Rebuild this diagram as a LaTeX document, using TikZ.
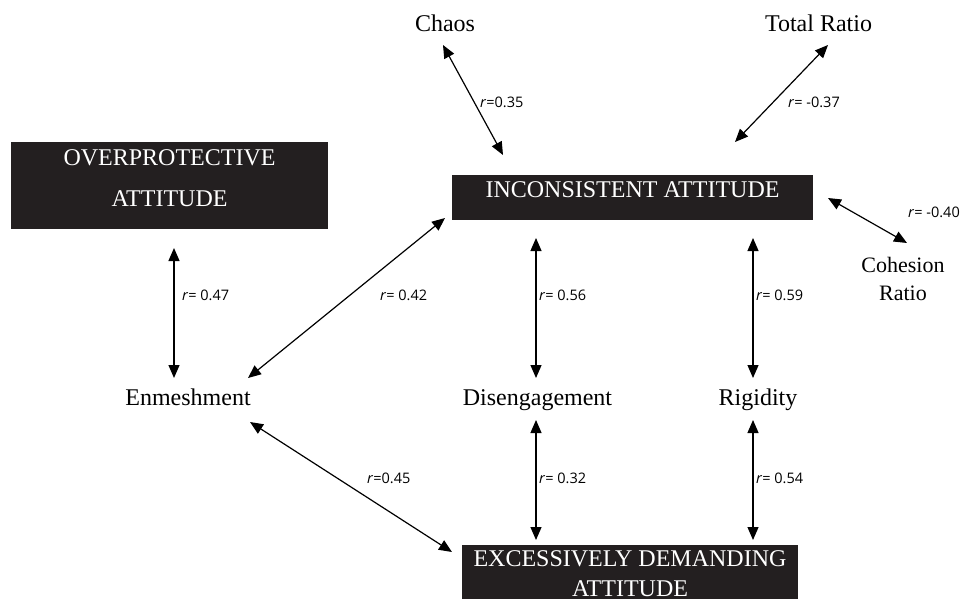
\documentclass[tikz,border=0pt]{standalone}
\usepackage{fontspec}
\setmainfont{Liberation Serif}
\newfontfamily\lblfont{Open Sans}
\usetikzlibrary{arrows.meta}
\definecolor{boxblack}{HTML}{231F20}

\tikzset{
  attbox/.style={fill=boxblack, text=white, inner sep=0pt, align=center,
    font=\fontsize{24}{41}\selectfont},
  var/.style={anchor=base, inner sep=0pt, font=\fontsize{24}{28}\selectfont},
  corr/.style={{Triangle[length=13pt,width=11pt]}-{Triangle[length=13pt,width=11pt]},
    line width=1.2pt},
  rlab/.style={anchor=base west, inner sep=0pt, font=\lblfont\fontsize{14.5}{17}\selectfont},
}

\begin{document}
\begin{tikzpicture}[x=1pt,y=-1pt]
\useasboundingbox (0,0) rectangle (961,599);

% attitudes
\node[attbox, minimum width=317pt, minimum height=87pt, text depth=14pt] (over) at (169.5,185.5) {OVERPROTECTIVE\\ATTITUDE};
\node[attbox, minimum width=361pt, minimum height=45pt, text depth=15pt] (inc) at (632.5,197.5) {INCONSISTENT ATTITUDE};
\node[attbox, minimum width=336pt, minimum height=57pt, font=\fontsize{24}{30}\selectfont] (exc) at (630,573.5) {EXCESSIVELY DEMANDING\\ATTITUDE};

% family variables
\node[var] (chaos) at (445,32) {Chaos};
\node[var] (total) at (818.5,32) {Total Ratio};
\node[var, align=center, font=\fontsize{22}{28}\selectfont] (coh) at (903,300) {Cohesion\\Ratio};
\node[var] (enm) at (188,405) {Enmeshment};
\node[var] (dis) at (537.5,405) {Disengagement};
\node[var] (rig) at (758,405) {Rigidity};

% arrow ends
\coordinate (chaos-s) at (443,45);
\coordinate (inc-chaos) at (503,155);
\coordinate (total-s) at (828,45);
\coordinate (inc-total) at (735,142);
\coordinate (inc-coh) at (828,198);
\coordinate (coh-n) at (907,243);
\coordinate (over-s) at (174,248);
\coordinate (enm-n) at (174,378);
\coordinate (inc-enm) at (445,218);
\coordinate (enm-ne) at (248,378);
\coordinate (inc-dis) at (536,238);
\coordinate (dis-n) at (536,378);
\coordinate (inc-rig) at (753,238);
\coordinate (rig-n) at (753,378);
\coordinate (enm-se) at (250,422);
\coordinate (exc-enm) at (452,552);
\coordinate (dis-s) at (536,420);
\coordinate (exc-dis) at (536,540);
\coordinate (rig-s) at (753,420);
\coordinate (exc-rig) at (753,540);

\draw[corr] (chaos-s) -- (inc-chaos);
\draw[corr] (total-s) -- (inc-total);
\draw[corr] (inc-coh) -- (coh-n);
\draw[corr] (over-s) -- (enm-n);
\draw[corr] (inc-enm) -- (enm-ne);
\draw[corr] (inc-dis) -- (dis-n);
\draw[corr] (inc-rig) -- (rig-n);
\draw[corr] (enm-se) -- (exc-enm);
\draw[corr] (dis-s) -- (exc-dis);
\draw[corr] (rig-s) -- (exc-rig);

% correlations
\node[rlab] (r1) at (480,108) {\textit{r}=0.35};
\node[rlab] (r2) at (788,108) {\textit{r}= -0.37};
\node[rlab] (r3) at (908,217) {\textit{r}= -0.40};
\node[rlab] (r4) at (182,300) {\textit{r}= 0.47};
\node[rlab] (r5) at (380,300) {\textit{r}= 0.42};
\node[rlab] (r6) at (539,300) {\textit{r}= 0.56};
\node[rlab] (r7) at (756,300) {\textit{r}= 0.59};
\node[rlab] (r8) at (367,483) {\textit{r}=0.45};
\node[rlab] (r9) at (539,483) {\textit{r}= 0.32};
\node[rlab] (r10) at (756,483) {\textit{r}= 0.54};
\end{tikzpicture}
\end{document}
